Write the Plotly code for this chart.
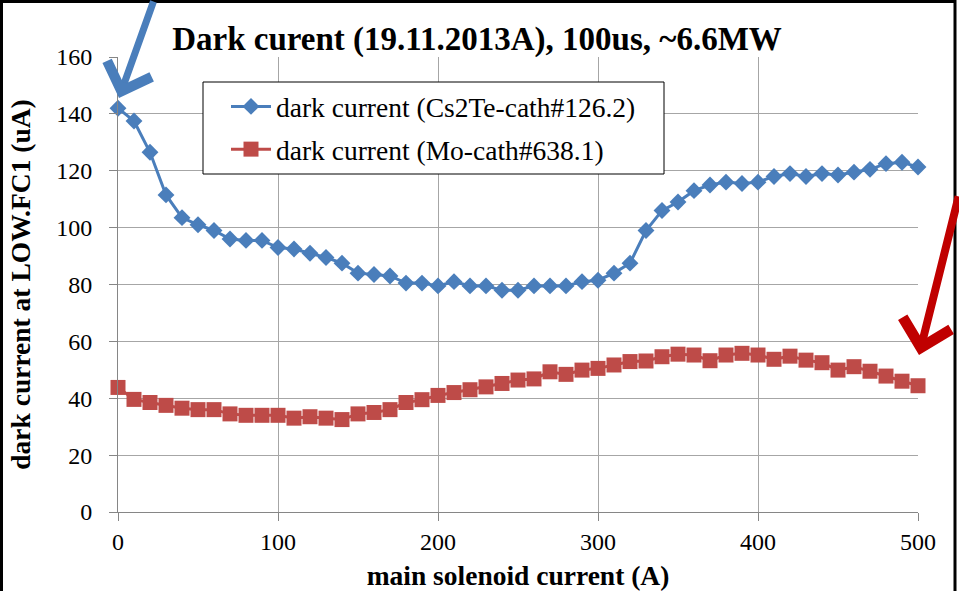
import plotly.graph_objects as go

solenoid_A = list(range(0, 510, 10))

cs2te_uA = [142, 137.5, 126.5, 111.5, 103.5, 101, 99, 96, 95.5, 95.5,
            93, 92.5, 91, 89.5, 87.5, 84, 83.5, 83, 80.5, 80.5,
            79.5, 81, 79.5, 79.5, 78, 78, 79.5, 79.5, 79.5, 81,
            81.5, 84, 87.5, 99, 106, 109, 113, 115, 116, 115.5,
            116, 118, 119, 118, 119, 118.5, 119.5, 120.5, 122.5, 123,
            121.3]

mo_uA = [43.8, 39.6, 38.5, 37.5, 36.5, 36, 36, 34.5, 34, 34,
         34, 33, 33.5, 33, 32.5, 34.5, 35, 36, 38.5, 39.5,
         41, 42, 43, 44, 45.2, 46.4, 46.8, 49.3, 48.4, 49.9,
         50.5, 51.7, 52.9, 53.1, 54.6, 55.5, 55.2, 53.2, 55.2, 55.8,
         55.2, 53.7, 54.8, 53.4, 52.5, 49.9, 51.1, 49.5, 47.8, 46,
         44.4]

series_names = ["dark current (Cs2Te-cath#126.2)", "dark current (Mo-cath#638.1)"]
title_text = "Dark curent (19.11.2013A), 100us, ~6.6MW"
x_title = "main solenoid current (A)"
y_title = "dark current at LOW.FC1 (uA)"

FONT = "Liberation Serif"
BLUE = "#4A7EBB"
RED = "#BE4B48"

fig = go.Figure()
fig.add_trace(go.Scatter(
    x=solenoid_A, y=cs2te_uA, name=series_names[0], mode="lines+markers",
    line=dict(color=BLUE, width=3), marker=dict(symbol="diamond", size=13, color=BLUE),
    cliponaxis=False, legendgroup="a"))
fig.add_trace(go.Scatter(
    x=solenoid_A, y=mo_uA, name=series_names[1], mode="lines+markers",
    line=dict(color=RED, width=3), marker=dict(symbol="square", size=15, color=RED),
    cliponaxis=False, legendgroup="b"))

L, R, T, B = 118, 41, 57, 79
W, H = 959, 591
pw, ph = W - L - R, H - T - B

def px(xp):
    return (xp - L) / pw

def py(yp):
    return (H - B - yp) / ph

fig.update_layout(
    width=W, height=H,
    margin=dict(l=L, r=R, t=T, b=B, autoexpand=False),
    paper_bgcolor="white", plot_bgcolor="white",
    font=dict(family=FONT, color="black", size=24),
    title=dict(text="<b>" + title_text + "</b>", x=px(477), xref="paper", xanchor="center",
               y=1 - 38 / H, yanchor="middle", font=dict(size=33, family=FONT)),
    showlegend=True,
    legend=dict(x=px(226), y=py(82), xanchor="left", yanchor="top",
                bgcolor="rgba(0,0,0,0)", borderwidth=0,
                font=dict(size=27.5, family=FONT), itemwidth=40,
                tracegroupgap=4),
    xaxis=dict(range=[0, 500], dtick=100, tick0=0, showgrid=True, gridcolor="#A6A6A6",
               gridwidth=1, showline=True, linecolor="#868686", linewidth=1,
               ticks="outside", ticklen=8, tickcolor="#868686", zeroline=False,
               automargin=False,
               tickfont=dict(size=24, family=FONT, color="black"),
               title=dict(text="<b>" + x_title + "</b>", font=dict(size=27.5, family=FONT), standoff=11)),
    yaxis=dict(range=[0, 160], dtick=20, tick0=0, showgrid=True, gridcolor="#A6A6A6",
               gridwidth=1, showline=True, linecolor="#868686", linewidth=1,
               ticks="outside", ticklen=8, tickcolor="#868686", zeroline=False,
               automargin=False, ticklabelstandoff=12,
               tickfont=dict(size=24, family=FONT, color="black"),
               title=dict(text="<b>" + y_title + "</b>", font=dict(size=27.5, family=FONT), standoff=17)),
)

# legend box
fig.add_shape(type="rect", xref="paper", yref="paper",
              x0=px(203), x1=px(664), y0=py(174), y1=py(82),
              fillcolor="white", line=dict(color="black", width=1), layer="above")

# outer frame
fig.add_shape(type="rect", xref="paper", yref="paper",
              x0=px(1.5), x1=px(955), y0=py(600), y1=py(1.5),
              fillcolor="rgba(0,0,0,0)", line=dict(color="black", width=3), layer="above")

# arrows
fig.add_annotation(xref="paper", yref="paper", x=px(119), y=py(98), ax=35, ay=-103,
                   text="", showarrow=True, arrowhead=4, arrowsize=1.3, arrowwidth=7,
                   arrowcolor=BLUE, standoff=0)
fig.add_annotation(xref="paper", yref="paper", x=px(919), y=py(355), ax=42, ay=-160,
                   text="", showarrow=True, arrowhead=4, arrowsize=1.2, arrowwidth=8,
                   arrowcolor="#C00000", standoff=0)

fig.write_html("out.html")
